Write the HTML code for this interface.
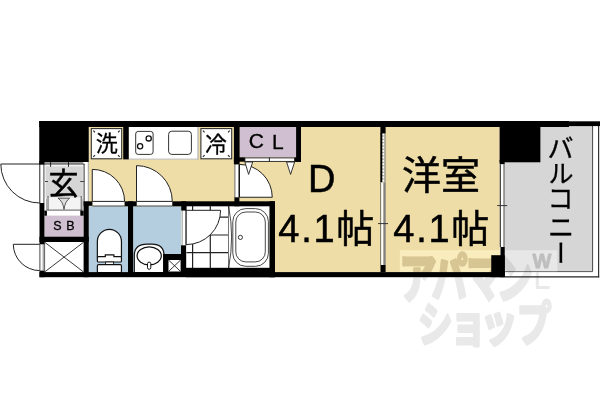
<!DOCTYPE html>
<html><head><meta charset="utf-8"><title>Floor plan</title>
<style>html,body{margin:0;padding:0;background:#fff;font-family:"Liberation Sans",sans-serif;}svg{display:block}</style>
</head><body>
<svg width="600" height="400" viewBox="0 0 600 400">
<rect x="88.75" y="126.50" width="410.95" height="146.00" fill="#EEDDA6" />
<rect x="540.20" y="126.00" width="51.90" height="37.00" fill="#D6D6D6" />
<rect x="504.70" y="162.10" width="87.40" height="109.10" fill="#D6D6D6" />
<line x1="592.60" y1="126.00" x2="592.60" y2="271.60" stroke="#444" stroke-width="1"/>
<line x1="598.60" y1="126.00" x2="598.60" y2="277.30" stroke="#333" stroke-width="1.2"/>
<line x1="504.70" y1="271.60" x2="592.60" y2="271.60" stroke="#555" stroke-width="1"/>
<line x1="504.70" y1="276.90" x2="599.20" y2="276.90" stroke="#222" stroke-width="1.2"/>
<rect x="128.75" y="127.00" width="69.55" height="32.40" fill="#fff" />
<line x1="128.75" y1="159.10" x2="198.30" y2="159.10" stroke="#aaa" stroke-width="0.8"/>
<line x1="198.00" y1="127.00" x2="198.00" y2="159.40" stroke="#999" stroke-width="0.9"/>
<rect x="135.7" y="131.4" width="17.4" height="23" rx="2.5" fill="#fff" stroke="#333" stroke-width="1"/>
<circle cx="140.1" cy="146.3" r="2.6" fill="#fff" stroke="#111" stroke-width="1.3"/>
<circle cx="148.7" cy="138.4" r="2.6" fill="#fff" stroke="#111" stroke-width="1.3"/>
<rect x="168.6" y="131.2" width="22.8" height="23.2" rx="3.2" fill="#fff" stroke="#333" stroke-width="1"/>
<rect x="91.3" y="128.6" width="30.400000000000006" height="30.200000000000017" fill="#fff" stroke="#2a2a2a" stroke-width="1.05"/>
<line x1="93.30" y1="130.60" x2="95.00" y2="132.30" stroke="#222" stroke-width="1.1"/>
<line x1="119.70" y1="130.60" x2="118.00" y2="132.30" stroke="#222" stroke-width="1.1"/>
<line x1="93.30" y1="156.80" x2="95.00" y2="155.10" stroke="#222" stroke-width="1.1"/>
<line x1="119.70" y1="156.80" x2="118.00" y2="155.10" stroke="#222" stroke-width="1.1"/>
<rect x="200.9" y="128.6" width="30.799999999999983" height="30.200000000000017" fill="#fff" stroke="#2a2a2a" stroke-width="1.05"/>
<line x1="202.90" y1="130.60" x2="204.60" y2="132.30" stroke="#222" stroke-width="1.1"/>
<line x1="229.70" y1="130.60" x2="228.00" y2="132.30" stroke="#222" stroke-width="1.1"/>
<line x1="202.90" y1="156.80" x2="204.60" y2="155.10" stroke="#222" stroke-width="1.1"/>
<line x1="229.70" y1="156.80" x2="228.00" y2="155.10" stroke="#222" stroke-width="1.1"/>
<rect x="234.70" y="164.40" width="4.70" height="32.90" fill="#fff" />
<line x1="234.90" y1="164.40" x2="234.90" y2="197.30" stroke="#444" stroke-width="0.8"/>
<path d="M239.4 197.25 L239.4 164.4 A32.85 32.85 0 0 1 272.25 197.25 Z" fill="#fff" stroke="#222" stroke-width="1" />
<line x1="239.20" y1="164.40" x2="239.20" y2="197.30" stroke="#111" stroke-width="1.3"/>
<rect x="239.60" y="126.50" width="56.60" height="30.90" fill="#D0BFD0" />
<rect x="244.9" y="157.9" width="49.7" height="3.5" fill="#fff" stroke="#222" stroke-width="0.9"/>
<line x1="269.40" y1="157.50" x2="269.40" y2="161.60" stroke="#222" stroke-width="1"/>
<path d="M244.9 162 L252.7 162 L248.6 174.4 Z" fill="#fff" stroke="#222" stroke-width="0.9" />
<path d="M286.6 162 L294.6 162 L290.6 174.4 Z" fill="#fff" stroke="#222" stroke-width="0.9" />
<rect x="88.75" y="206.30" width="39.55" height="66.20" fill="#B4CEDF" />
<rect x="133.00" y="206.30" width="48.30" height="66.20" fill="#B4CEDF" />
<rect x="92.40" y="201.30" width="32.20" height="4.70" fill="#fff" />
<line x1="92.40" y1="206.00" x2="124.60" y2="206.00" stroke="#333" stroke-width="0.9"/>
<rect x="136.70" y="201.30" width="35.60" height="4.70" fill="#fff" />
<line x1="136.70" y1="206.00" x2="172.30" y2="206.00" stroke="#333" stroke-width="0.9"/>
<path d="M92.25 201.4 L92.25 169.4 A32 32 0 0 1 124.6 201.4 Z" fill="#fff" stroke="#222" stroke-width="1" />
<path d="M136.5 201.4 L136.5 165.6 A35.8 35.8 0 0 1 172.3 201.4 Z" fill="#fff" stroke="#222" stroke-width="1" />
<rect x="181.30" y="206.00" width="88.30" height="62.00" fill="#fff" />
<line x1="192.60" y1="206.00" x2="192.60" y2="268.00" stroke="#222" stroke-width="1.2"/>
<line x1="210.30" y1="206.00" x2="210.30" y2="268.00" stroke="#222" stroke-width="1.2"/>
<line x1="228.60" y1="206.00" x2="228.60" y2="268.00" stroke="#222" stroke-width="1.2"/>
<line x1="186.30" y1="217.10" x2="228.60" y2="217.10" stroke="#222" stroke-width="1.2"/>
<line x1="186.30" y1="235.00" x2="228.60" y2="235.00" stroke="#222" stroke-width="1.2"/>
<line x1="186.30" y1="252.60" x2="228.60" y2="252.60" stroke="#222" stroke-width="1.2"/>
<line x1="182.20" y1="210.60" x2="182.20" y2="245.30" stroke="#888" stroke-width="0.8"/>
<line x1="186.00" y1="206.00" x2="186.00" y2="245.30" stroke="#222" stroke-width="1"/>
<path d="M186.2 210.3 L220.6 210.3 A34.4 34.4 0 0 1 186.2 244.6 Z" fill="#fff" stroke="#222" stroke-width="1" />
<path d="M228.6 206 Q234.6 237 228.6 268" fill="#fff" stroke="#333" stroke-width="0.9" />
<rect x="232.8" y="208.6" width="35.6" height="57.7" rx="13" ry="13" fill="#fff" stroke="#333" stroke-width="0.9"/>
<rect x="235.8" y="212.0" width="29.5" height="49.9" rx="10" ry="10" fill="#fff" stroke="#333" stroke-width="0.9"/>
<circle cx="240.4" cy="237.4" r="2.1" fill="#fff" stroke="#222" stroke-width="0.9"/>
<path d="M97.35 257 L97.35 241.6 A12.05 12.3 0 0 1 121.45 241.6 L121.45 257 Z" fill="#fff" stroke="#111" stroke-width="1.2" />
<path d="M98.3 256.6 L105.3 256.6 L105.3 254.8 L113.9 254.8 L113.9 256.6 L120.5 256.6 Q121.45 256.6 121.45 257.6 L121.45 261 Q121.45 262 120.5 262 L98.3 262 Q97.35 262 97.35 261 L97.35 257.6 Q97.35 256.6 98.3 256.6 Z" fill="#fff" stroke="#111" stroke-width="1.2" />
<rect x="105.60" y="262.00" width="8.00" height="2.60" fill="#fff" stroke="#111" stroke-width="0.9"/>
<rect x="97.35" y="264.7" width="24.1" height="8" rx="1.2" fill="#fff" stroke="#111" stroke-width="1.2"/>
<path d="M134.3 272.5 L134.3 255.5 C134.3 247 140 244.2 147 244.2 L152 244.2 C159 244.2 164 247 164 255.5 L164 272.5 Z" fill="#fff" stroke="#111" stroke-width="1.2" />
<ellipse cx="149.2" cy="255.8" rx="12.1" ry="9" fill="#fff" stroke="#111" stroke-width="1.2"/>
<rect x="147.5" y="262.1" width="3.3" height="7.2" rx="1.6" fill="#fff" stroke="#111" stroke-width="1"/>
<rect x="39.70" y="162.00" width="48.80" height="53.60" fill="#fff" />
<rect x="44.60" y="161.80" width="38.80" height="2.10" fill="#9a9a9a" />
<line x1="39.30" y1="164.20" x2="84.60" y2="164.20" stroke="#2a2a2a" stroke-width="1.0"/>
<rect x="44.90" y="164.70" width="38.70" height="32.90" fill="#f2f2f2" />
<rect x="45.80" y="166.40" width="37.00" height="31.20" fill="#D6D6D6" />
<line x1="39.80" y1="162.00" x2="39.80" y2="203.00" stroke="#222" stroke-width="1.0"/>
<line x1="43.90" y1="164.00" x2="43.90" y2="203.00" stroke="#555" stroke-width="1.1"/>
<line x1="84.10" y1="164.00" x2="84.10" y2="202.00" stroke="#444" stroke-width="1.1"/>
<line x1="88.30" y1="162.00" x2="88.30" y2="202.00" stroke="#888" stroke-width="0.8"/>
<line x1="50.60" y1="162.00" x2="50.60" y2="166.80" stroke="#222" stroke-width="1.0"/>
<line x1="68.50" y1="162.00" x2="68.50" y2="166.80" stroke="#222" stroke-width="1.0"/>
<line x1="45.00" y1="181.50" x2="48.00" y2="181.50" stroke="#333" stroke-width="0.9"/>
<line x1="80.20" y1="181.50" x2="84.20" y2="181.50" stroke="#333" stroke-width="0.9"/>
<rect x="47.80" y="197.60" width="33.60" height="12.40" fill="#f4f4f4" />
<line x1="48.00" y1="196.00" x2="48.00" y2="210.00" stroke="#444" stroke-width="0.9"/>
<line x1="81.20" y1="196.00" x2="81.20" y2="210.00" stroke="#444" stroke-width="0.9"/>
<line x1="46.50" y1="198.50" x2="46.50" y2="210.00" stroke="#999" stroke-width="0.8"/>
<line x1="82.70" y1="198.50" x2="82.70" y2="210.00" stroke="#999" stroke-width="0.8"/>
<path d="M58 198.2 L69.6 198.2 Q65 201.5 64 209.4 Q63 201.5 58 198.2 Z" fill="#ddd" stroke="#333" stroke-width="0.8" />
<line x1="46.80" y1="210.20" x2="82.20" y2="210.20" stroke="#333" stroke-width="1"/>
<rect x="47.00" y="210.70" width="33.40" height="3.90" fill="#fff" />
<rect x="44.30" y="215.60" width="39.00" height="21.20" fill="#D0BFD0" />
<rect x="44.30" y="241.80" width="39.50" height="30.50" fill="#fff" />
<line x1="44.60" y1="242.20" x2="83.60" y2="272.00" stroke="#222" stroke-width="0.9"/>
<line x1="44.60" y1="272.00" x2="83.60" y2="242.20" stroke="#222" stroke-width="0.9"/>
<rect x="39.70" y="244.30" width="4.70" height="26.30" fill="#fff" />
<line x1="39.90" y1="244.30" x2="39.90" y2="270.60" stroke="#333" stroke-width="0.9"/>
<line x1="43.20" y1="244.30" x2="43.20" y2="270.60" stroke="#666" stroke-width="0.8"/>
<line x1="44.60" y1="242.00" x2="44.60" y2="272.00" stroke="#333" stroke-width="0.8"/>
<path d="M39.8 244.3 L13.3 244.3 A26.5 26.5 0 0 0 39.8 270.6" fill="none" stroke="#222" stroke-width="1" />
<path d="M39.8 164 L0.8 164 A39 39 0 0 0 39.8 203" fill="none" stroke="#222" stroke-width="1" />
<rect x="399.80" y="250.20" width="99.90" height="21.90" fill="#F9ECBD" />
<rect x="504.80" y="250.20" width="52.50" height="21.00" fill="#E7E7E7" />
<rect x="39.25" y="121.00" width="529.75" height="6.00" fill="#000" />
<rect x="568.50" y="121.30" width="31.50" height="4.80" fill="#000" />
<rect x="39.25" y="121.00" width="49.50" height="41.00" fill="#000" />
<rect x="39.25" y="161.00" width="5.35" height="3.30" fill="#000" />
<rect x="123.20" y="126.00" width="5.55" height="33.40" fill="#000" />
<rect x="233.90" y="126.00" width="5.70" height="38.40" fill="#000" />
<rect x="233.90" y="157.30" width="10.90" height="4.40" fill="#000" />
<rect x="296.10" y="126.00" width="4.90" height="36.00" fill="#000" />
<rect x="294.70" y="157.30" width="6.30" height="4.60" fill="#000" />
<rect x="39.50" y="203.00" width="4.90" height="41.30" fill="#000" />
<rect x="44.30" y="210.60" width="2.60" height="5.10" fill="#000" />
<rect x="80.30" y="210.60" width="3.40" height="5.10" fill="#000" />
<rect x="39.50" y="270.60" width="4.90" height="6.60" fill="#000" />
<rect x="83.60" y="201.80" width="5.15" height="75.40" fill="#000" />
<rect x="83.60" y="201.30" width="8.80" height="4.50" fill="#000" />
<rect x="39.50" y="236.70" width="49.25" height="5.30" fill="#000" />
<rect x="39.50" y="272.10" width="465.20" height="5.10" fill="#000" />
<rect x="124.60" y="201.30" width="12.10" height="5.00" fill="#000" />
<rect x="172.30" y="201.30" width="102.70" height="5.00" fill="#000" />
<rect x="128.00" y="201.30" width="5.10" height="75.70" fill="#000" />
<rect x="181.20" y="201.30" width="5.10" height="9.30" fill="#000" />
<rect x="181.00" y="245.30" width="5.10" height="31.70" fill="#000" />
<rect x="163.10" y="254.00" width="23.00" height="23.00" fill="#000" />
<rect x="168.50" y="260.00" width="12.10" height="11.50" fill="#fff" />
<line x1="168.70" y1="260.20" x2="180.40" y2="271.30" stroke="#222" stroke-width="0.9"/>
<line x1="168.70" y1="271.30" x2="180.40" y2="260.20" stroke="#222" stroke-width="0.9"/>
<rect x="186.00" y="267.80" width="89.00" height="9.40" fill="#000" />
<rect x="269.50" y="201.30" width="5.50" height="75.90" fill="#000" />
<rect x="234.40" y="197.30" width="5.00" height="9.00" fill="#000" />
<rect x="499.60" y="121.00" width="40.80" height="41.30" fill="#000" />
<rect x="499.60" y="160.00" width="5.10" height="4.40" fill="#000" />
<rect x="500.50" y="247.00" width="4.25" height="30.20" fill="#000" />
<rect x="491.25" y="255.20" width="13.50" height="22.00" fill="#000" />
<rect x="380.40" y="126.00" width="5.20" height="7.60" fill="#000" />
<rect x="380.30" y="133.00" width="2.20" height="49.40" fill="#000" />
<rect x="382.50" y="133.60" width="1.90" height="48.80" fill="#fff" />
<line x1="382.9" y1="135.4" x2="382.9" y2="182.4" stroke="#333" stroke-width="0.9" stroke-dasharray="1.3 2.0"/>
<rect x="384.40" y="133.60" width="1.20" height="48.80" fill="#8a8a8a" />
<rect x="380.40" y="182.40" width="0.90" height="82.60" fill="#444" />
<rect x="381.30" y="182.40" width="2.10" height="82.60" fill="#fff" />
<rect x="383.40" y="182.40" width="2.30" height="82.60" fill="#808080" />
<rect x="380.50" y="265.00" width="5.10" height="7.20" fill="#000" />
<line x1="378.00" y1="223.60" x2="388.00" y2="223.60" stroke="#333" stroke-width="1"/>
<rect x="499.70" y="164.40" width="1.40" height="82.60" fill="#4a4a4a" />
<rect x="501.10" y="164.40" width="2.30" height="82.60" fill="#fff" />
<rect x="503.40" y="164.40" width="1.30" height="82.60" fill="#6a6a6a" />
<line x1="497.20" y1="205.60" x2="507.20" y2="205.60" stroke="#333" stroke-width="1"/>
<g font-family='"Liberation Sans", "Noto Sans CJK JP", sans-serif' fill="#000">
<text x="308.1" y="192.25" font-size="38" stroke="#000" stroke-width="0.5">D</text>
<text x="278.3" y="242.4" font-size="38" textLength="96" lengthAdjust="spacing" stroke="#000" stroke-width="0.5">4.1帖</text>
<text x="393.3" y="242.4" font-size="38" textLength="96" lengthAdjust="spacing" stroke="#000" stroke-width="0.5">4.1帖</text>
<text x="402" y="188.8" font-size="39" stroke="#000" stroke-width="0.5">洋室</text>
<text x="48.4" y="193.5" font-size="30" stroke="#000" stroke-width="0.5">玄</text>
<text x="95.8" y="151.4" font-size="22" stroke="#000" stroke-width="0.3">洗</text>
<text x="205.3" y="151.5" font-size="21.5" stroke="#000" stroke-width="0.3">冷</text>
<text x="248.75" y="148.4" font-size="21" stroke="#000" stroke-width="0.3">C</text>
<text x="272" y="148.6" font-size="21" stroke="#000" stroke-width="0.3">L</text>
<text x="53.3" y="229.8" font-size="12.5" stroke="#000" stroke-width="0.3">S</text>
<text x="66.3" y="229.9" font-size="12.5" stroke="#000" stroke-width="0.3">B</text>
<text x="547.6" y="157.9" font-size="26" stroke="#000" stroke-width="0.3">バ</text>
<text x="548.4" y="182.65" font-size="25" stroke="#000" stroke-width="0.3">ル</text>
<text x="547.4" y="208.2" font-size="26" stroke="#000" stroke-width="0.3">コ</text>
<text x="547.9" y="236.5" font-size="26" stroke="#000" stroke-width="0.3">ニ</text>
<text transform="translate(560.9 252.75) rotate(90)" x="0" y="9.5" font-size="25" text-anchor="middle" stroke="#000" stroke-width="0.3">ー</text>
</g>
<g style="mix-blend-mode:multiply" font-family='"Liberation Sans", "Noto Sans CJK JP", sans-serif' font-weight="bold">
<text transform="matrix(0.03723 0 0 0.05376 399.191 297.783)" font-size="1000" fill="#E9E9E9" stroke="#E9E9E9" stroke-width="60" stroke-linejoin="round">ア</text>
<text transform="matrix(0.03560 0 0 0.05228 431.811 297.389)" font-size="1000" fill="#E9E9E9" stroke="#E9E9E9" stroke-width="60" stroke-linejoin="round">パ</text>
<text transform="matrix(0.03697 0 0 0.05192 466.173 296.922)" font-size="1000" fill="#E9E9E9" stroke="#E9E9E9" stroke-width="60" stroke-linejoin="round">マ</text>
<text transform="matrix(0.03624 0 0 0.05276 496.524 298.207)" font-size="1000" fill="#E9E9E9" stroke="#E9E9E9" stroke-width="60" stroke-linejoin="round">ン</text>
<text transform="matrix(0.03495 0 0 0.04719 417.809 342.399)" font-size="1000" fill="#E9E9E9" stroke="#E9E9E9" stroke-width="60" stroke-linejoin="round">シ</text>
<text transform="matrix(0.03653 0 0 0.04852 449.633 342.336)" font-size="1000" fill="#E9E9E9" stroke="#E9E9E9" stroke-width="60" stroke-linejoin="round">ョ</text>
<text transform="matrix(0.03806 0 0 0.04780 479.992 341.467)" font-size="1000" fill="#E9E9E9" stroke="#E9E9E9" stroke-width="60" stroke-linejoin="round">ッ</text>
<text transform="matrix(0.03462 0 0 0.04809 516.731 341.378)" font-size="1000" fill="#E9E9E9" stroke="#E9E9E9" stroke-width="60" stroke-linejoin="round">プ</text>
<text x="532.4" y="268.4" font-size="20" fill="#D2D2D2" stroke="#D2D2D2" stroke-width="0.8" stroke-linejoin="round">W</text>
<path d="M537.3 273.5 L537.3 287.6 L548.5 287.6" fill="none" stroke="#E9E9E9" stroke-width="3" stroke-linecap="round" stroke-linejoin="round"/>
</g>
<clipPath id="cw"><rect x="399.8" y="250.2" width="99.9" height="21.9"/></clipPath>
<g style="mix-blend-mode:multiply" clip-path="url(#cw)" font-family='"Liberation Sans", "Noto Sans CJK JP", sans-serif' font-weight="bold">
<text transform="matrix(0.03723 0 0 0.05376 399.191 297.783)" font-size="1000" fill="#F2EADA" stroke="#F2EADA" stroke-width="60" stroke-linejoin="round">ア</text>
<text transform="matrix(0.03560 0 0 0.05228 431.811 297.389)" font-size="1000" fill="#F2EADA" stroke="#F2EADA" stroke-width="60" stroke-linejoin="round">パ</text>
<text transform="matrix(0.03697 0 0 0.05192 466.173 296.922)" font-size="1000" fill="#F2EADA" stroke="#F2EADA" stroke-width="60" stroke-linejoin="round">マ</text>
</g>
</svg>
</body></html>
